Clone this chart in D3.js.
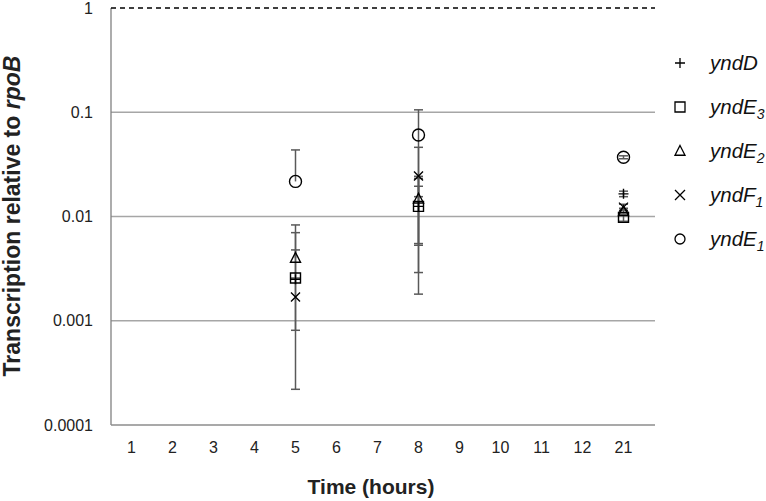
<!DOCTYPE html>
<html>
<head>
<meta charset="utf-8">
<script src="https://cdn.jsdelivr.net/npm/d3@7.9.0/dist/d3.min.js"></script>
<style>
  body { margin: 0; background: #fff; }
  svg { display: block; }
  text { font-family: Arial, "Liberation Sans", sans-serif; }
</style>
</head>
<body>
<svg id="chart" width="766" height="501"></svg>
<script>
// categories on the x axis
const times = ['1', '2', '3', '4', '5', '6', '7', '8', '9', '10', '11', '12', '21'];
const sampledTimes = ['5', '8', '21'];
const yTicks = [0.0001, 0.001, 0.01, 0.1, 1];

// series values (one per sampled time) and their +/- errors
const yndD = [0.0025, 0.0125, 0.0165];
const yndDErr = [0.00228, 0.0107, 0.001];
const yndE3 = [0.00257, 0.0125, 0.0098];
const yndE3Err = [0.00443, 0.007, 0.0008];
const yndE2 = [0.0040, 0.0148, 0.0112];
const yndE2Err = [0.0043, 0.0095, 0.0008];
const yndF1 = [0.00169, 0.0245, 0.0123];
const yndF1Err = [0.00088, 0.0216, 0.0008];
const yndE1 = [0.0217, 0.0605, 0.037];
const yndE1Err = [0.0218, 0.045, 0.0012];

const series = [
  { gene: 'yndD', sub: '', marker: 'plus', values: yndD, errors: yndDErr },
  { gene: 'yndE', sub: '3', marker: 'square', values: yndE3, errors: yndE3Err },
  { gene: 'yndE', sub: '2', marker: 'triangle', values: yndE2, errors: yndE2Err },
  { gene: 'yndF', sub: '1', marker: 'times', values: yndF1, errors: yndF1Err },
  { gene: 'yndE', sub: '1', marker: 'circle', values: yndE1, errors: yndE1Err },
];

const svg = d3.select('#chart');
const plotLeft = 111, plotRight = 644, plotTop = 8, plotBottom = 425;

const x = d3.scaleBand().domain(times).range([plotLeft, plotRight]).padding(0);
const y = d3.scaleLog().domain([0.0001, 1]).range([plotBottom, plotTop]);

// marker paths centred on 0,0
function markerPath(type, s) {
  const h = s / 2;
  switch (type) {
    case 'plus': return `M${-h},0H${h}M0,${-h}V${h}`;
    case 'square': return `M${-h},${-h}H${h}V${h}H${-h}Z`;
    case 'triangle': return `M0,${-h * 1.1}L${h},${h * 0.85}H${-h}Z`;
    case 'times': return `M${-h},${-h}L${h},${h}M${h},${-h}L${-h},${h}`;
    case 'circle': return `M${h},0A${h},${h} 0 1,1 ${-h},0A${h},${h} 0 1,1 ${h},0`;
  }
}
const markerSize = { plus: 10, square: 10, triangle: 10, times: 9, circle: 12 };

// gridlines
svg.append('g')
  .selectAll('line')
  .data(yTicks.filter((t) => t > 0.0001 && t < 1))
  .join('line')
  .attr('x1', plotLeft).attr('x2', plotRight + 11)
  .attr('y1', (d) => y(d)).attr('y2', (d) => y(d))
  .attr('stroke', '#a6a6a6').attr('stroke-width', 1.5);

// axis lines
svg.append('line')
  .attr('x1', plotLeft).attr('x2', plotLeft)
  .attr('y1', y(1)).attr('y2', y(0.0001))
  .attr('stroke', '#808080').attr('stroke-width', 1.3);
svg.append('line')
  .attr('x1', plotLeft).attr('x2', plotRight + 11)
  .attr('y1', y(0.0001)).attr('y2', y(0.0001))
  .attr('stroke', '#8c8c8c').attr('stroke-width', 1.5);

// dashed reference line at 1
svg.append('line')
  .attr('x1', plotLeft).attr('x2', plotRight + 11)
  .attr('y1', y(1)).attr('y2', y(1))
  .attr('stroke', '#000').attr('stroke-width', 1.3)
  .attr('stroke-dasharray', '5,4');

// y tick labels
svg.append('g')
  .selectAll('text')
  .data(yTicks)
  .join('text')
  .attr('x', 93)
  .attr('y', (d) => y(d) + 5.5)
  .attr('text-anchor', 'end')
  .attr('font-size', 16)
  .attr('fill', '#222')
  .text((d) => String(d));

// x tick labels
svg.append('g')
  .selectAll('text')
  .data(times)
  .join('text')
  .attr('x', (d) => x(d) + x.bandwidth() / 2)
  .attr('y', 453)
  .attr('text-anchor', 'middle')
  .attr('font-size', 16)
  .attr('fill', '#222')
  .text((d) => d);

// axis titles
svg.append('text')
  .attr('x', 371)
  .attr('y', 494)
  .attr('text-anchor', 'middle')
  .attr('font-size', 21)
  .attr('font-weight', 'bold')
  .attr('fill', '#222')
  .text('Time (hours)');

const yTitle = svg.append('text')
  .attr('transform', `translate(20,216) rotate(-90)`)
  .attr('text-anchor', 'middle')
  .attr('font-size', 23)
  .attr('font-weight', 'bold')
  .attr('fill', '#222');
yTitle.append('tspan').text('Transcription relative to ');
yTitle.append('tspan').attr('font-style', 'italic').text('rpoB');

// error bars
const errGroup = svg.append('g')
  .attr('stroke', '#595959').attr('stroke-width', 1.5).attr('fill', 'none');
series.forEach((s) => {
  s.values.forEach((v, i) => {
    const cx = x(sampledTimes[i]) + x.bandwidth() / 2;
    const hi = v + s.errors[i];
    const lo = v - s.errors[i];
    errGroup.append('line')
      .attr('x1', cx).attr('x2', cx)
      .attr('y1', y(hi)).attr('y2', lo > 0 ? y(lo) : y(v));
    errGroup.append('line')
      .attr('x1', cx - 4.5).attr('x2', cx + 4.5)
      .attr('y1', y(hi)).attr('y2', y(hi));
    if (lo > 0) {
      errGroup.append('line')
        .attr('x1', cx - 4.5).attr('x2', cx + 4.5)
        .attr('y1', y(lo)).attr('y2', y(lo));
    }
  });
});

// markers
series.forEach((s) => {
  svg.append('g')
    .selectAll('path')
    .data(s.values)
    .join('path')
    .attr('transform', (d, i) => `translate(${x(sampledTimes[i]) + x.bandwidth() / 2},${y(d)})`)
    .attr('d', markerPath(s.marker, markerSize[s.marker]))
    .attr('fill', 'none')
    .attr('stroke', '#000')
    .attr('stroke-width', 1.4);
});

// legend
const legend = svg.append('g')
  .selectAll('g')
  .data(series)
  .join('g')
  .attr('transform', (d, i) => `translate(680,${63 + i * 44})`);

legend.append('path')
  .attr('d', (d) => markerPath(d.marker, 10))
  .attr('fill', 'none')
  .attr('stroke', '#000')
  .attr('stroke-width', 1.3);

const legendText = legend.append('text')
  .attr('x', 30)
  .attr('y', 7)
  .attr('font-family', '"Open Sans", sans-serif')
  .attr('font-style', 'italic')
  .attr('font-size', 20.5)
  .attr('fill', '#111');
legendText.append('tspan').text((d) => d.gene);
legendText.append('tspan')
  .attr('dy', 5)
  .attr('font-size', 14)
  .text((d) => d.sub);
</script>
</body>
</html>
